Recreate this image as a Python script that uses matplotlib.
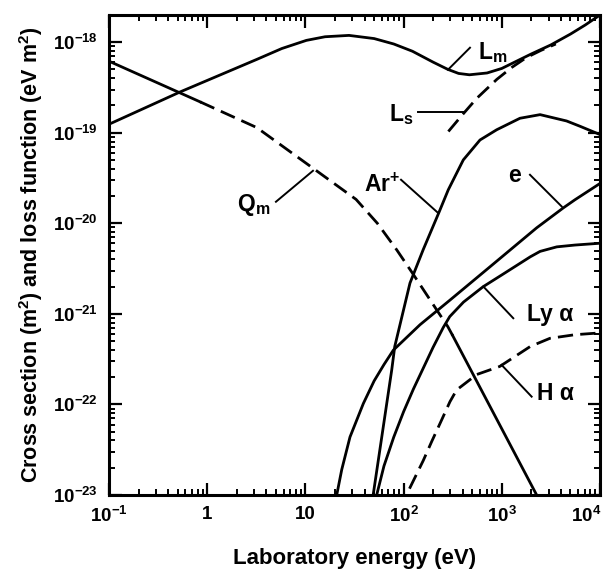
import numpy as np
import matplotlib
matplotlib.use("Agg")
import matplotlib.pyplot as plt
from matplotlib.transforms import ScaledTranslation

plt.rcParams['font.family'] = ['Liberation Sans', 'DejaVu Sans']
plt.rcParams['font.weight'] = 'bold'
plt.rcParams['mathtext.fontset'] = 'custom'
plt.rcParams['mathtext.rm'] = 'Liberation Sans:bold'
plt.rcParams['mathtext.bf'] = 'Liberation Sans:bold'
plt.rcParams['mathtext.it'] = 'Liberation Sans:bold'

# values, as log10(energy / eV) and log10(value)
lm_logE = [-1.0, -0.271, 0.505, 0.76, 1.01, 1.2, 1.444, 1.7, 1.9, 2.09, 2.3, 2.45, 2.56, 2.67,
           2.85, 3.0, 3.15, 3.3, 3.5, 3.7, 3.85, 4.0]
lm_logY = [-18.906, -18.547, -18.19, -18.07, -17.98, -17.94, -17.925, -17.96, -18.02, -18.10,
           -18.22, -18.30, -18.345, -18.36, -18.34, -18.29, -18.21, -18.13, -18.03, -17.91,
           -17.81, -17.70]

ls_logE = [2.456, 2.6, 2.745, 2.95, 3.1, 3.25, 3.4, 3.55]
ls_logY = [-18.986, -18.80, -18.62, -18.41, -18.28, -18.17, -18.09, -18.02]

qm_solid1_logE = [-1.0, -0.07]
qm_solid1_logY = [-18.21, -18.66]
qm_dash_logE = [-0.07, 0.505, 1.083, 1.516, 1.733, 1.93, 2.094, 2.337, 2.45, 2.5]
qm_dash_logY = [-18.66, -18.943, -19.396, -19.736, -20.0, -20.293, -20.556, -20.956, -21.14, -21.24]
qm_solid2_logE = [2.5, 3.015, 3.355]
qm_solid2_logY = [-21.24, -22.30, -23.0]

ar_logE = [1.69, 1.879, 1.91, 2.065, 2.2, 2.36, 2.455, 2.608, 2.778, 2.948, 3.185, 3.39,
           3.66, 3.8, 4.0]
ar_logY = [-23.0, -21.62, -21.36, -20.66, -20.29, -19.88, -19.63, -19.30, -19.08, -18.967,
           -18.84, -18.80, -18.87, -18.93, -19.02]

e_logE = [1.319, 1.37, 1.454, 1.59, 1.7, 1.8, 1.896, 2.167, 2.47, 2.88, 3.355, 3.626, 3.745, 4.0]
e_logY = [-23.0, -22.72, -22.36, -21.99, -21.74, -21.56, -21.40, -21.12, -20.85, -20.48,
          -20.05, -19.83, -19.74, -19.56]

lya_logE = [1.726, 1.80, 1.90, 2.0, 2.1, 2.2, 2.3, 2.404, 2.47, 2.61, 2.81, 3.0, 3.29, 3.39,
            3.56, 3.745, 4.0]
lya_logY = [-23.0, -22.68, -22.36, -22.08, -21.83, -21.60, -21.37, -21.15, -21.03, -20.87,
            -20.70, -20.57, -20.37, -20.31, -20.26, -20.24, -20.22]

ha_logE = [2.06, 2.2, 2.286, 2.388, 2.472, 2.54, 2.744, 2.98, 3.29, 3.49, 3.745, 4.0]
ha_logY = [-22.93, -22.62, -22.41, -22.17, -21.97, -21.84, -21.67, -21.58, -21.36, -21.27,
           -21.23, -21.21]

xtick_vals = [0.1, 1, 10, 100, 1000, 10000]
xtick_labels = ['$10^{-1}$', '1', '10', '$10^{2}$', '$10^{3}$', '$10^{4}$']
ytick_vals = [1e-23, 1e-22, 1e-21, 1e-20, 1e-19, 1e-18]
ytick_labels = ['$10^{-23}$', '$10^{-22}$', '$10^{-21}$', '$10^{-20}$', '$10^{-19}$', '$10^{-18}$']

# (label, text pos, alignment, leader start, leader end) all in log10 coords
labels = [
    ('L$_{\\mathrm{m}}$', (2.758, -18.11), 'left', (2.452, -18.304), (2.676, -18.061)),
    ('L$_{\\mathrm{s}}$', (2.096, -18.80), 'right', (2.147, -18.768), (2.605, -18.768)),
    ('Ar$^{+}$', (1.963, -19.575), 'right', (1.974, -19.519), (2.35, -19.884)),
    ('e', (3.134, -19.47), 'center', (3.287, -19.464), (3.61, -19.814)),
    ('Ly α', (3.257, -21.011), 'left', (3.117, -21.048), (2.812, -20.698)),
    ('H α', (3.355, -21.884), 'left', (3.304, -21.914), (2.998, -21.564)),
    ('Q$_{\\mathrm{m}}$', (0.303, -19.80), 'left', (0.70, -19.762), (1.077, -19.42)),
]


def p(v):
    return np.power(10.0, v)


fig = plt.figure(figsize=(6.09, 5.71), dpi=100)
ax = fig.add_axes([0.179, 0.1331, 0.8062, 0.8406])
ax.set_xscale('log')
ax.set_yscale('log')

lw = 2.0
dash = (0, (5.5, 2.6))
ax.plot(p(lm_logE), p(lm_logY), color='black', lw=lw)
ax.plot(p(ls_logE), p(ls_logY), color='black', lw=lw, linestyle=dash)
ax.plot(p(qm_solid1_logE), p(qm_solid1_logY), color='black', lw=lw)
ax.plot(p(qm_dash_logE), p(qm_dash_logY), color='black', lw=lw, linestyle=dash)
ax.plot(p(qm_solid2_logE), p(qm_solid2_logY), color='black', lw=lw)
ax.plot(p(ar_logE), p(ar_logY), color='black', lw=lw)
ax.plot(p(e_logE), p(e_logY), color='black', lw=lw)
ax.plot(p(lya_logE), p(lya_logY), color='black', lw=lw)
ax.plot(p(ha_logE), p(ha_logY), color='black', lw=lw, linestyle=dash)

for text, tpos, ha, a, b in labels:
    ax.plot([p(a[0]), p(b[0])], [p(a[1]), p(b[1])], color='black', lw=1.4)
    ax.text(p(tpos[0]), p(tpos[1]), text, ha=ha, va='center', fontsize=16.5, fontweight='bold')

ax.set_xlim(0.1, 1e4)
ax.set_ylim(1e-23, 10 ** -17.70)
ax.set_xticks(xtick_vals)
ax.set_xticklabels(xtick_labels)
ax.set_yticks(ytick_vals)
ax.set_yticklabels(ytick_labels)
ax.tick_params(which='both', direction='in', top=True, right=True, labelsize=13.5)
ax.tick_params(which='major', length=9, width=1.6, pad=8)
ax.tick_params(which='minor', length=4.5, width=1.4)
for s in ax.spines.values():
    s.set_linewidth(2.2)

# last x label sits at the image edge; nudge it inside
last = ax.get_xticklabels()[-1]
last.set_transform(last.get_transform() + ScaledTranslation(-10 / 72, 0, fig.dpi_scale_trans))

ax.set_xlabel('Laboratory energy (eV)', fontsize=16, fontweight='bold', labelpad=16)
ax.set_ylabel('Cross section (m$^{2}$) and loss function (eV m$^{2}$)', fontsize=15.5,
              fontweight='bold', labelpad=6)

fig.savefig('out.png', dpi=100)
